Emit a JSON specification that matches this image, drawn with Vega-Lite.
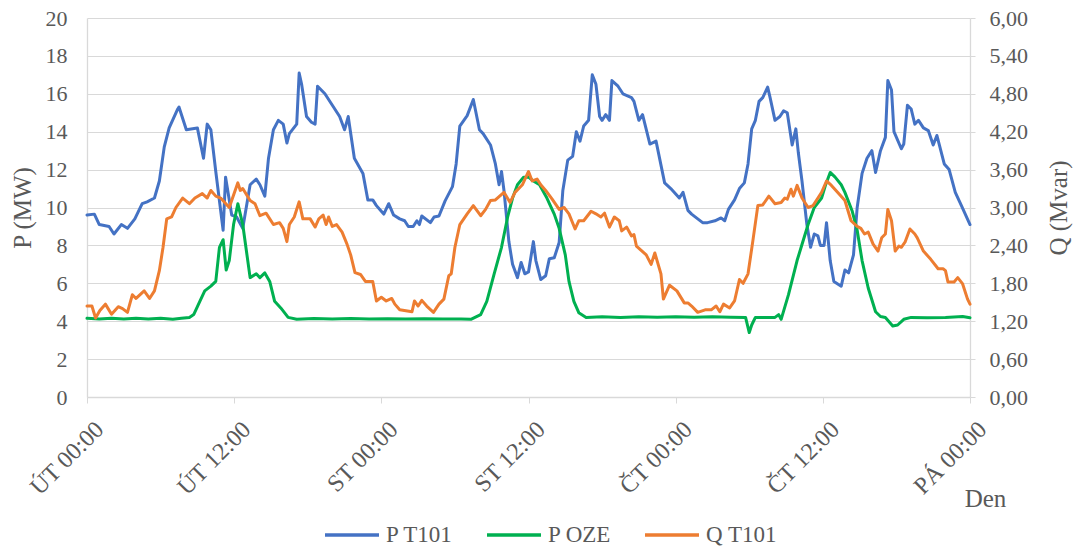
{
  "$schema": "https://vega.github.io/schema/vega-lite/v6.json",
  "autosize": {"type": "none"},
  "width": 883,
  "height": 379,
  "padding": {"left": 87, "top": 18, "right": 104, "bottom": 150},
  "config": {
    "view": {"stroke": null},
    "font": "Liberation Serif",
    "text": {"font": "Liberation Serif"},
    "axis": {"labelFont": "Liberation Serif", "titleFont": "Liberation Serif", "labelColor": "#595959", "titleColor": "#595959", "titleFontWeight": "normal", "domainColor": "#d9d9d9", "tickColor": "#d9d9d9", "gridColor": "#d9d9d9", "domainWidth": 1.3},
    "legend": {"labelFont": "Liberation Serif", "titleFont": "Liberation Serif", "labelColor": "#595959"}
  },
  "datasets": {
    "p": [
      {"t":0,"s":"P T101","v":9.6},{"t":0.6,"s":"P T101","v":9.65},{"t":1.0,"s":"P T101","v":9.1},{"t":1.8,"s":"P T101","v":9.0},{"t":2.2,"s":"P T101","v":8.6},{"t":2.8,"s":"P T101","v":9.1},{"t":3.3,"s":"P T101","v":8.9},{"t":3.9,"s":"P T101","v":9.4},{"t":4.5,"s":"P T101","v":10.2},{"t":4.9,"s":"P T101","v":10.3},{"t":5.5,"s":"P T101","v":10.5},{"t":5.9,"s":"P T101","v":11.4},{"t":6.3,"s":"P T101","v":13.2},{"t":6.7,"s":"P T101","v":14.2},{"t":7.4,"s":"P T101","v":15.2},{"t":7.5,"s":"P T101","v":15.3},{"t":8.1,"s":"P T101","v":14.1},{"t":9.0,"s":"P T101","v":14.2},{"t":9.5,"s":"P T101","v":12.6},{"t":9.8,"s":"P T101","v":14.4},{"t":10.1,"s":"P T101","v":14.1},{"t":10.5,"s":"P T101","v":11.9},{"t":11.1,"s":"P T101","v":8.8},{"t":11.3,"s":"P T101","v":11.6},{"t":11.8,"s":"P T101","v":9.6},{"t":12.2,"s":"P T101","v":9.5},{"t":12.7,"s":"P T101","v":8.9},{"t":13.3,"s":"P T101","v":11.2},{"t":13.8,"s":"P T101","v":11.5},{"t":14.1,"s":"P T101","v":11.2},{"t":14.5,"s":"P T101","v":10.6},{"t":14.8,"s":"P T101","v":12.6},{"t":15.2,"s":"P T101","v":14.1},{"t":15.6,"s":"P T101","v":14.6},{"t":16.0,"s":"P T101","v":14.4},{"t":16.3,"s":"P T101","v":13.4},{"t":16.5,"s":"P T101","v":13.9},{"t":17.1,"s":"P T101","v":14.4},{"t":17.3,"s":"P T101","v":17.1},{"t":17.5,"s":"P T101","v":16.5},{"t":17.9,"s":"P T101","v":14.8},{"t":18.3,"s":"P T101","v":14.5},{"t":18.6,"s":"P T101","v":14.4},{"t":18.8,"s":"P T101","v":16.4},{"t":19.4,"s":"P T101","v":16.0},{"t":19.9,"s":"P T101","v":15.5},{"t":20.6,"s":"P T101","v":14.8},{"t":21.0,"s":"P T101","v":14.1},{"t":21.3,"s":"P T101","v":14.8},{"t":21.8,"s":"P T101","v":12.6},{"t":22.5,"s":"P T101","v":11.8},{"t":22.9,"s":"P T101","v":10.4},{"t":23.3,"s":"P T101","v":10.4},{"t":23.6,"s":"P T101","v":10.1},{"t":24.0,"s":"P T101","v":9.8},{"t":24.2,"s":"P T101","v":9.65},{"t":24.6,"s":"P T101","v":10.2},{"t":25.0,"s":"P T101","v":9.6},{"t":25.5,"s":"P T101","v":9.4},{"t":25.9,"s":"P T101","v":9.3},{"t":26.2,"s":"P T101","v":9.0},{"t":26.6,"s":"P T101","v":9.0},{"t":26.9,"s":"P T101","v":9.3},{"t":27.1,"s":"P T101","v":9.1},{"t":27.3,"s":"P T101","v":9.55},{"t":28.0,"s":"P T101","v":9.2},{"t":28.3,"s":"P T101","v":9.5},{"t":28.7,"s":"P T101","v":9.55},{"t":29.2,"s":"P T101","v":10.35},{"t":29.8,"s":"P T101","v":11.1},{"t":30.1,"s":"P T101","v":12.3},{"t":30.4,"s":"P T101","v":14.3},{"t":31.0,"s":"P T101","v":14.85},{"t":31.5,"s":"P T101","v":15.7},{"t":32.0,"s":"P T101","v":14.1},{"t":32.3,"s":"P T101","v":13.9},{"t":32.9,"s":"P T101","v":13.3},{"t":33.3,"s":"P T101","v":12.3},{"t":33.6,"s":"P T101","v":11.2},{"t":33.8,"s":"P T101","v":11.9},{"t":34.0,"s":"P T101","v":10.9},{"t":34.4,"s":"P T101","v":8.2},{"t":34.7,"s":"P T101","v":7.0},{"t":35.1,"s":"P T101","v":6.3},{"t":35.4,"s":"P T101","v":7.1},{"t":35.7,"s":"P T101","v":6.5},{"t":36.0,"s":"P T101","v":6.6},{"t":36.4,"s":"P T101","v":8.2},{"t":36.6,"s":"P T101","v":7.2},{"t":37.0,"s":"P T101","v":6.2},{"t":37.4,"s":"P T101","v":6.4},{"t":37.7,"s":"P T101","v":7.3},{"t":38.1,"s":"P T101","v":7.35},{"t":38.5,"s":"P T101","v":8.15},{"t":38.8,"s":"P T101","v":10.9},{"t":39.2,"s":"P T101","v":12.5},{"t":39.6,"s":"P T101","v":12.7},{"t":39.9,"s":"P T101","v":14.0},{"t":40.2,"s":"P T101","v":13.5},{"t":40.5,"s":"P T101","v":14.3},{"t":40.9,"s":"P T101","v":14.6},{"t":41.2,"s":"P T101","v":17.0},{"t":41.5,"s":"P T101","v":16.5},{"t":41.8,"s":"P T101","v":14.8},{"t":42.0,"s":"P T101","v":14.6},{"t":42.3,"s":"P T101","v":14.9},{"t":42.6,"s":"P T101","v":14.6},{"t":42.8,"s":"P T101","v":16.7},{"t":43.3,"s":"P T101","v":16.4},{"t":43.7,"s":"P T101","v":16.0},{"t":44.4,"s":"P T101","v":15.8},{"t":44.6,"s":"P T101","v":15.6},{"t":45.0,"s":"P T101","v":14.6},{"t":45.3,"s":"P T101","v":14.9},{"t":45.9,"s":"P T101","v":13.35},{"t":46.4,"s":"P T101","v":13.5},{"t":47.1,"s":"P T101","v":11.3},{"t":47.6,"s":"P T101","v":11.0},{"t":48.3,"s":"P T101","v":10.5},{"t":48.6,"s":"P T101","v":10.8},{"t":49.0,"s":"P T101","v":9.85},{"t":49.3,"s":"P T101","v":9.65},{"t":49.8,"s":"P T101","v":9.4},{"t":50.2,"s":"P T101","v":9.2},{"t":50.6,"s":"P T101","v":9.2},{"t":51.2,"s":"P T101","v":9.3},{"t":51.7,"s":"P T101","v":9.45},{"t":52.0,"s":"P T101","v":9.3},{"t":52.3,"s":"P T101","v":9.9},{"t":52.8,"s":"P T101","v":10.4},{"t":53.2,"s":"P T101","v":11.0},{"t":53.6,"s":"P T101","v":11.3},{"t":53.9,"s":"P T101","v":12.3},{"t":54.2,"s":"P T101","v":14.15},{"t":54.5,"s":"P T101","v":14.6},{"t":54.8,"s":"P T101","v":15.6},{"t":55.1,"s":"P T101","v":15.8},{"t":55.5,"s":"P T101","v":16.35},{"t":55.7,"s":"P T101","v":15.8},{"t":56.1,"s":"P T101","v":14.6},{"t":56.5,"s":"P T101","v":14.8},{"t":56.8,"s":"P T101","v":15.1},{"t":57.1,"s":"P T101","v":15.0},{"t":57.5,"s":"P T101","v":13.3},{"t":57.8,"s":"P T101","v":14.15},{"t":58.0,"s":"P T101","v":12.9},{"t":58.3,"s":"P T101","v":11.4},{"t":58.7,"s":"P T101","v":9.1},{"t":59.0,"s":"P T101","v":7.9},{"t":59.3,"s":"P T101","v":8.6},{"t":59.6,"s":"P T101","v":8.5},{"t":59.8,"s":"P T101","v":8.0},{"t":60.1,"s":"P T101","v":8.0},{"t":60.3,"s":"P T101","v":9.2},{"t":60.6,"s":"P T101","v":7.2},{"t":60.9,"s":"P T101","v":6.1},{"t":61.5,"s":"P T101","v":5.85},{"t":61.8,"s":"P T101","v":6.7},{"t":62.1,"s":"P T101","v":6.55},{"t":62.5,"s":"P T101","v":7.5},{"t":62.8,"s":"P T101","v":10.0},{"t":63.2,"s":"P T101","v":11.8},{"t":63.6,"s":"P T101","v":12.6},{"t":64.0,"s":"P T101","v":13.0},{"t":64.3,"s":"P T101","v":11.85},{"t":64.7,"s":"P T101","v":13.0},{"t":65.1,"s":"P T101","v":13.7},{"t":65.3,"s":"P T101","v":16.7},{"t":65.6,"s":"P T101","v":16.2},{"t":65.8,"s":"P T101","v":14.0},{"t":66.4,"s":"P T101","v":13.1},{"t":66.6,"s":"P T101","v":13.35},{"t":66.9,"s":"P T101","v":15.4},{"t":67.2,"s":"P T101","v":15.2},{"t":67.5,"s":"P T101","v":14.4},{"t":67.8,"s":"P T101","v":14.6},{"t":68.2,"s":"P T101","v":14.2},{"t":68.6,"s":"P T101","v":14.06},{"t":69.0,"s":"P T101","v":13.3},{"t":69.3,"s":"P T101","v":13.8},{"t":69.9,"s":"P T101","v":12.3},{"t":70.3,"s":"P T101","v":12.0},{"t":70.8,"s":"P T101","v":10.8},{"t":71.3,"s":"P T101","v":10.1},{"t":72.0,"s":"P T101","v":9.1},
      {"t":0,"s":"P OZE","v":4.15},{"t":1,"s":"P OZE","v":4.12},{"t":2,"s":"P OZE","v":4.16},{"t":3,"s":"P OZE","v":4.12},{"t":4,"s":"P OZE","v":4.15},{"t":5,"s":"P OZE","v":4.12},{"t":6,"s":"P OZE","v":4.15},{"t":7,"s":"P OZE","v":4.1},{"t":7.7,"s":"P OZE","v":4.15},{"t":8.35,"s":"P OZE","v":4.2},{"t":8.7,"s":"P OZE","v":4.35},{"t":9.2,"s":"P OZE","v":5.05},{"t":9.6,"s":"P OZE","v":5.6},{"t":10.1,"s":"P OZE","v":5.85},{"t":10.5,"s":"P OZE","v":6.1},{"t":10.8,"s":"P OZE","v":7.9},{"t":11.1,"s":"P OZE","v":8.3},{"t":11.35,"s":"P OZE","v":6.7},{"t":11.6,"s":"P OZE","v":7.2},{"t":11.95,"s":"P OZE","v":9.1},{"t":12.3,"s":"P OZE","v":10.2},{"t":12.7,"s":"P OZE","v":9.1},{"t":13.3,"s":"P OZE","v":6.3},{"t":13.8,"s":"P OZE","v":6.5},{"t":14.1,"s":"P OZE","v":6.3},{"t":14.5,"s":"P OZE","v":6.55},{"t":14.9,"s":"P OZE","v":6.1},{"t":15.3,"s":"P OZE","v":5.05},{"t":15.8,"s":"P OZE","v":4.7},{"t":16.4,"s":"P OZE","v":4.2},{"t":17.1,"s":"P OZE","v":4.1},{"t":18.5,"s":"P OZE","v":4.14},{"t":20,"s":"P OZE","v":4.11},{"t":21.5,"s":"P OZE","v":4.14},{"t":23,"s":"P OZE","v":4.11},{"t":24.5,"s":"P OZE","v":4.13},{"t":26,"s":"P OZE","v":4.11},{"t":27.5,"s":"P OZE","v":4.13},{"t":29,"s":"P OZE","v":4.11},{"t":30.5,"s":"P OZE","v":4.12},{"t":31.3,"s":"P OZE","v":4.1},{"t":32.1,"s":"P OZE","v":4.35},{"t":32.6,"s":"P OZE","v":5.05},{"t":33.2,"s":"P OZE","v":6.5},{"t":33.8,"s":"P OZE","v":7.9},{"t":34.3,"s":"P OZE","v":9.5},{"t":34.7,"s":"P OZE","v":10.5},{"t":35.1,"s":"P OZE","v":11.2},{"t":35.6,"s":"P OZE","v":11.6},{"t":36.0,"s":"P OZE","v":11.6},{"t":36.4,"s":"P OZE","v":11.4},{"t":36.9,"s":"P OZE","v":11.2},{"t":37.5,"s":"P OZE","v":10.5},{"t":38.1,"s":"P OZE","v":9.65},{"t":38.5,"s":"P OZE","v":8.9},{"t":39.0,"s":"P OZE","v":7.5},{"t":39.3,"s":"P OZE","v":6.1},{"t":39.7,"s":"P OZE","v":5.05},{"t":40.1,"s":"P OZE","v":4.45},{"t":40.7,"s":"P OZE","v":4.2},{"t":42,"s":"P OZE","v":4.24},{"t":43.5,"s":"P OZE","v":4.2},{"t":45,"s":"P OZE","v":4.24},{"t":46.5,"s":"P OZE","v":4.21},{"t":48,"s":"P OZE","v":4.24},{"t":49.5,"s":"P OZE","v":4.21},{"t":51,"s":"P OZE","v":4.23},{"t":52.5,"s":"P OZE","v":4.21},{"t":53.7,"s":"P OZE","v":4.2},{"t":54.0,"s":"P OZE","v":3.4},{"t":54.2,"s":"P OZE","v":3.8},{"t":54.5,"s":"P OZE","v":4.2},{"t":55.3,"s":"P OZE","v":4.2},{"t":56.1,"s":"P OZE","v":4.2},{"t":56.4,"s":"P OZE","v":4.35},{"t":56.6,"s":"P OZE","v":4.1},{"t":57.2,"s":"P OZE","v":5.4},{"t":57.9,"s":"P OZE","v":7.2},{"t":58.3,"s":"P OZE","v":8.05},{"t":58.8,"s":"P OZE","v":9.1},{"t":59.3,"s":"P OZE","v":10.0},{"t":59.9,"s":"P OZE","v":10.5},{"t":60.2,"s":"P OZE","v":11.15},{"t":60.6,"s":"P OZE","v":11.85},{"t":61.0,"s":"P OZE","v":11.6},{"t":61.5,"s":"P OZE","v":11.2},{"t":61.8,"s":"P OZE","v":10.8},{"t":62.4,"s":"P OZE","v":9.8},{"t":62.8,"s":"P OZE","v":8.8},{"t":63.2,"s":"P OZE","v":7.2},{"t":63.7,"s":"P OZE","v":5.75},{"t":64.3,"s":"P OZE","v":4.5},{"t":64.7,"s":"P OZE","v":4.25},{"t":65.1,"s":"P OZE","v":4.2},{"t":65.7,"s":"P OZE","v":3.75},{"t":66.1,"s":"P OZE","v":3.8},{"t":66.6,"s":"P OZE","v":4.1},{"t":67.2,"s":"P OZE","v":4.2},{"t":68.5,"s":"P OZE","v":4.18},{"t":70,"s":"P OZE","v":4.2},{"t":71.4,"s":"P OZE","v":4.25},{"t":72,"s":"P OZE","v":4.18}
    ],
    "q": [
      {"t":0,"s":"Q T101","v":1.44},{"t":0.4,"s":"Q T101","v":1.44},{"t":0.7,"s":"Q T101","v":1.25},{"t":1.05,"s":"Q T101","v":1.37},{"t":1.5,"s":"Q T101","v":1.47},{"t":2.0,"s":"Q T101","v":1.31},{"t":2.55,"s":"Q T101","v":1.43},{"t":2.9,"s":"Q T101","v":1.40},{"t":3.3,"s":"Q T101","v":1.34},{"t":3.7,"s":"Q T101","v":1.62},{"t":4.0,"s":"Q T101","v":1.56},{"t":4.66,"s":"Q T101","v":1.68},{"t":5.1,"s":"Q T101","v":1.56},{"t":5.5,"s":"Q T101","v":1.68},{"t":5.9,"s":"Q T101","v":2.00},{"t":6.2,"s":"Q T101","v":2.37},{"t":6.5,"s":"Q T101","v":2.82},{"t":6.9,"s":"Q T101","v":2.85},{"t":7.25,"s":"Q T101","v":3.00},{"t":7.8,"s":"Q T101","v":3.15},{"t":8.35,"s":"Q T101","v":3.06},{"t":8.8,"s":"Q T101","v":3.15},{"t":9.4,"s":"Q T101","v":3.22},{"t":9.8,"s":"Q T101","v":3.15},{"t":10.1,"s":"Q T101","v":3.27},{"t":10.5,"s":"Q T101","v":3.18},{"t":10.9,"s":"Q T101","v":3.15},{"t":11.6,"s":"Q T101","v":3.00},{"t":12.3,"s":"Q T101","v":3.39},{"t":12.5,"s":"Q T101","v":3.27},{"t":12.7,"s":"Q T101","v":3.30},{"t":13.3,"s":"Q T101","v":3.11},{"t":13.7,"s":"Q T101","v":3.06},{"t":14.1,"s":"Q T101","v":2.87},{"t":14.6,"s":"Q T101","v":2.91},{"t":15.2,"s":"Q T101","v":2.73},{"t":15.7,"s":"Q T101","v":2.76},{"t":16.0,"s":"Q T101","v":2.67},{"t":16.3,"s":"Q T101","v":2.46},{"t":16.5,"s":"Q T101","v":2.73},{"t":16.9,"s":"Q T101","v":2.85},{"t":17.3,"s":"Q T101","v":3.09},{"t":17.6,"s":"Q T101","v":2.82},{"t":18.2,"s":"Q T101","v":2.82},{"t":18.6,"s":"Q T101","v":2.69},{"t":18.9,"s":"Q T101","v":2.82},{"t":19.25,"s":"Q T101","v":2.88},{"t":19.5,"s":"Q T101","v":2.73},{"t":19.7,"s":"Q T101","v":2.85},{"t":20.0,"s":"Q T101","v":2.70},{"t":20.35,"s":"Q T101","v":2.73},{"t":20.8,"s":"Q T101","v":2.61},{"t":21.2,"s":"Q T101","v":2.42},{"t":21.5,"s":"Q T101","v":2.25},{"t":21.85,"s":"Q T101","v":1.97},{"t":22.3,"s":"Q T101","v":1.94},{"t":22.7,"s":"Q T101","v":1.83},{"t":23.3,"s":"Q T101","v":1.83},{"t":23.6,"s":"Q T101","v":1.52},{"t":24.0,"s":"Q T101","v":1.58},{"t":24.4,"s":"Q T101","v":1.52},{"t":24.85,"s":"Q T101","v":1.56},{"t":25.1,"s":"Q T101","v":1.47},{"t":25.5,"s":"Q T101","v":1.38},{"t":26.5,"s":"Q T101","v":1.35},{"t":26.7,"s":"Q T101","v":1.52},{"t":27.0,"s":"Q T101","v":1.44},{"t":27.3,"s":"Q T101","v":1.53},{"t":27.7,"s":"Q T101","v":1.44},{"t":28.25,"s":"Q T101","v":1.34},{"t":28.7,"s":"Q T101","v":1.47},{"t":29.1,"s":"Q T101","v":1.55},{"t":29.5,"s":"Q T101","v":1.92},{"t":29.7,"s":"Q T101","v":1.95},{"t":30.0,"s":"Q T101","v":2.37},{"t":30.4,"s":"Q T101","v":2.73},{"t":31.0,"s":"Q T101","v":2.90},{"t":31.5,"s":"Q T101","v":3.03},{"t":32.1,"s":"Q T101","v":2.87},{"t":32.5,"s":"Q T101","v":2.97},{"t":32.9,"s":"Q T101","v":3.11},{"t":33.3,"s":"Q T101","v":3.12},{"t":34.0,"s":"Q T101","v":3.24},{"t":34.5,"s":"Q T101","v":3.08},{"t":34.9,"s":"Q T101","v":3.24},{"t":35.5,"s":"Q T101","v":3.36},{"t":36.0,"s":"Q T101","v":3.57},{"t":36.3,"s":"Q T101","v":3.42},{"t":36.7,"s":"Q T101","v":3.45},{"t":37.0,"s":"Q T101","v":3.36},{"t":37.4,"s":"Q T101","v":3.27},{"t":37.9,"s":"Q T101","v":3.14},{"t":38.5,"s":"Q T101","v":2.97},{"t":38.9,"s":"Q T101","v":3.00},{"t":39.3,"s":"Q T101","v":2.90},{"t":39.8,"s":"Q T101","v":2.66},{"t":40.1,"s":"Q T101","v":2.79},{"t":40.5,"s":"Q T101","v":2.79},{"t":41.1,"s":"Q T101","v":2.94},{"t":41.5,"s":"Q T101","v":2.90},{"t":41.9,"s":"Q T101","v":2.85},{"t":42.2,"s":"Q T101","v":2.91},{"t":42.6,"s":"Q T101","v":2.69},{"t":43.0,"s":"Q T101","v":2.85},{"t":43.4,"s":"Q T101","v":2.79},{"t":43.6,"s":"Q T101","v":2.63},{"t":44.0,"s":"Q T101","v":2.69},{"t":44.4,"s":"Q T101","v":2.55},{"t":44.6,"s":"Q T101","v":2.57},{"t":44.8,"s":"Q T101","v":2.39},{"t":45.6,"s":"Q T101","v":2.25},{"t":46.0,"s":"Q T101","v":2.10},{"t":46.3,"s":"Q T101","v":2.28},{"t":46.8,"s":"Q T101","v":1.95},{"t":47.0,"s":"Q T101","v":1.55},{"t":47.5,"s":"Q T101","v":1.77},{"t":48.1,"s":"Q T101","v":1.68},{"t":48.7,"s":"Q T101","v":1.49},{"t":49.0,"s":"Q T101","v":1.49},{"t":49.3,"s":"Q T101","v":1.44},{"t":49.8,"s":"Q T101","v":1.34},{"t":50.4,"s":"Q T101","v":1.38},{"t":50.9,"s":"Q T101","v":1.38},{"t":51.3,"s":"Q T101","v":1.44},{"t":51.6,"s":"Q T101","v":1.35},{"t":51.9,"s":"Q T101","v":1.47},{"t":52.4,"s":"Q T101","v":1.41},{"t":52.8,"s":"Q T101","v":1.52},{"t":53.2,"s":"Q T101","v":1.86},{"t":53.5,"s":"Q T101","v":1.80},{"t":53.9,"s":"Q T101","v":1.95},{"t":54.3,"s":"Q T101","v":2.48},{"t":54.7,"s":"Q T101","v":3.03},{"t":55.1,"s":"Q T101","v":3.04},{"t":55.6,"s":"Q T101","v":3.18},{"t":56.1,"s":"Q T101","v":3.06},{"t":56.6,"s":"Q T101","v":3.08},{"t":56.9,"s":"Q T101","v":3.15},{"t":57.1,"s":"Q T101","v":3.13},{"t":57.4,"s":"Q T101","v":3.29},{"t":57.6,"s":"Q T101","v":3.18},{"t":57.9,"s":"Q T101","v":3.35},{"t":58.3,"s":"Q T101","v":3.15},{"t":58.8,"s":"Q T101","v":3.00},{"t":59.2,"s":"Q T101","v":3.03},{"t":59.6,"s":"Q T101","v":3.15},{"t":59.9,"s":"Q T101","v":3.24},{"t":60.3,"s":"Q T101","v":3.42},{"t":60.7,"s":"Q T101","v":3.35},{"t":61.2,"s":"Q T101","v":3.24},{"t":61.8,"s":"Q T101","v":3.11},{"t":62.3,"s":"Q T101","v":2.79},{"t":62.8,"s":"Q T101","v":2.70},{"t":63.1,"s":"Q T101","v":2.67},{"t":63.4,"s":"Q T101","v":2.58},{"t":63.7,"s":"Q T101","v":2.61},{"t":64.1,"s":"Q T101","v":2.42},{"t":64.5,"s":"Q T101","v":2.31},{"t":64.8,"s":"Q T101","v":2.52},{"t":65.1,"s":"Q T101","v":2.58},{"t":65.3,"s":"Q T101","v":2.97},{"t":65.6,"s":"Q T101","v":2.79},{"t":65.9,"s":"Q T101","v":2.31},{"t":66.2,"s":"Q T101","v":2.39},{"t":66.4,"s":"Q T101","v":2.37},{"t":66.7,"s":"Q T101","v":2.45},{"t":67.1,"s":"Q T101","v":2.66},{"t":67.5,"s":"Q T101","v":2.58},{"t":67.7,"s":"Q T101","v":2.52},{"t":68.2,"s":"Q T101","v":2.31},{"t":68.8,"s":"Q T101","v":2.18},{"t":69.4,"s":"Q T101","v":2.03},{"t":69.8,"s":"Q T101","v":2.03},{"t":70.0,"s":"Q T101","v":2.00},{"t":70.2,"s":"Q T101","v":1.82},{"t":70.7,"s":"Q T101","v":1.82},{"t":71.0,"s":"Q T101","v":1.89},{"t":71.4,"s":"Q T101","v":1.79},{"t":71.8,"s":"Q T101","v":1.55},{"t":72.0,"s":"Q T101","v":1.47}
    ]
  },
  "encoding": {
    "x": {
      "field": "t", "type": "quantitative",
      "scale": {"domain": [0, 72], "nice": false, "zero": false},
      "axis": {
        "values": [0, 12, 24, 36, 48, 60, 72],
        "labelExpr": "['ÚT 00:00','ÚT 12:00','ST 00:00','ST 12:00','ČT 00:00','ČT 12:00','PÁ 00:00'][round(datum.value/12)]",
        "labelAngle": -45, "labelFontSize": 24, "labelPadding": 14, "labelOffset": 4,
        "labelFont": "Liberation Serif",
        "grid": false, "ticks": true, "tickSize": 6,
        "title": "Den", "titleFontSize": 25, "titleX": 898, "titleY": 101,
        "titleFont": "Liberation Serif",
        "titleAlign": "center", "titleBaseline": "middle", "titleAngle": 0
      }
    },
    "color": {
      "field": "s", "type": "nominal",
      "scale": {"domain": ["P T101", "P OZE", "Q T101"], "range": ["#4472C4", "#00B050", "#ED7D31"]},
      "legend": {
        "title": null, "orient": "none", "legendX": 236, "legendY": 488,
        "direction": "horizontal", "symbolType": "stroke", "symbolSize": 2916,
        "labelFont": "Liberation Serif",
        "symbolStrokeWidth": 3.5, "labelFontSize": 23, "labelOffset": 5, "columnPadding": 26
      }
    }
  },
  "layer": [
    {
      "data": {"name": "p"},
      "mark": {"type": "line", "strokeWidth": 3, "strokeJoin": "round", "strokeCap": "round"},
      "encoding": {
        "y": {
          "field": "v", "type": "quantitative",
          "scale": {"domain": [0, 20], "nice": false},
          "axis": {
            "values": [0, 2, 4, 6, 8, 10, 12, 14, 16, 18, 20],
            "grid": true, "ticks": false, "tickSize": 0, "labelPadding": 20, "labelFontSize": 22,
            "labelFont": "Liberation Serif", "titleFont": "Liberation Serif",
            "title": "P (MW)", "titleFontSize": 25, "titleX": -65, "titleY": 189.5,
            "titleAngle": -90, "titleAlign": "center", "titleBaseline": "middle"
          }
        }
      }
    },
    {
      "data": {"name": "q"},
      "mark": {"type": "line", "strokeWidth": 3, "strokeJoin": "round", "strokeCap": "round"},
      "encoding": {
        "y": {
          "field": "v", "type": "quantitative",
          "scale": {"domain": [0, 6], "nice": false},
          "axis": {
            "orient": "right",
            "values": [0, 0.6, 1.2, 1.8, 2.4, 3, 3.6, 4.2, 4.8, 5.4, 6],
            "labelExpr": "replace(format(datum.value, '.2f'), '.', ',')",
            "grid": false, "ticks": true, "tickSize": 5, "labelPadding": 14, "labelFontSize": 22,
            "labelFont": "Liberation Serif", "titleFont": "Liberation Serif",
            "title": "Q (Mvar)", "titleFontSize": 25, "titleX": 88, "titleY": 189.5,
            "titleAngle": -90, "titleAlign": "center", "titleBaseline": "middle"
          }
        }
      }
    }
  ],
  "resolve": {"scale": {"y": "independent"}}
}
